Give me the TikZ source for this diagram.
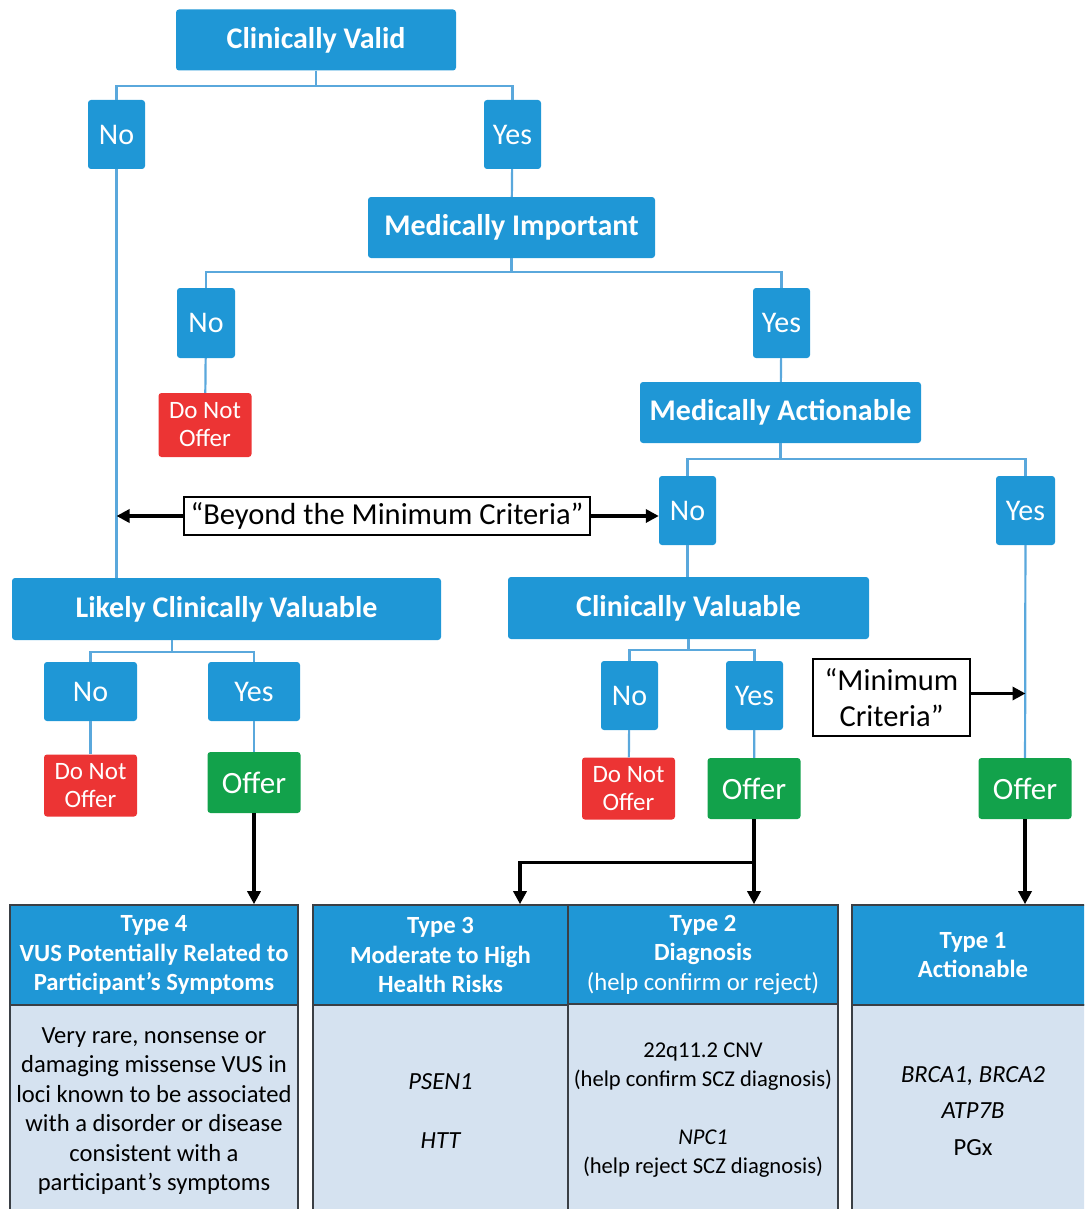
\documentclass[tikz,border=0pt]{standalone}
\usepackage{fontspec}
\setmainfont{Carlito}
\usepackage{tikz}
\usetikzlibrary{arrows.meta,positioning,calc}
\definecolor{boxblue}{HTML}{1F97D6}
\definecolor{linkblue}{HTML}{5AA8DC}
\definecolor{stopred}{HTML}{EC3434}
\definecolor{offergreen}{HTML}{12A24B}
\definecolor{bodyfill}{HTML}{D5E2F0}
\definecolor{rulegray}{HTML}{3A3F45}

\begin{document}
\begin{tikzpicture}[x=1pt,y=-1pt,
  decision/.style={fill=boxblue,rounded corners=3pt,text=white,inner sep=0pt,
              font=\fontsize{30}{32}\selectfont\bfseries},
  answer/.style={fill=boxblue,rounded corners=3pt,text=white,inner sep=0pt,
              font=\fontsize{30}{32}\selectfont},
  stopbox/.style={fill=stopred,rounded corners=3pt,text=white,inner sep=0pt,align=center,
              minimum width=93pt,minimum height=62pt,font=\fontsize{25}{28}\selectfont},
  offerbox/.style={fill=offergreen,rounded corners=3pt,text=white,inner sep=0pt,
              minimum width=93pt,minimum height=61pt,font=\fontsize{31}{32}\selectfont},
  critbox/.style={draw=black,line width=1.6pt,fill=white,inner sep=0pt,align=center,
              font=\fontsize{30.5}{36}\selectfont},
  thead/.style={draw=rulegray,line width=1.6pt,fill=boxblue,text=white,inner sep=0pt,align=center,
              minimum height=100pt,font=\fontsize{24.7}{29.5}\selectfont\bfseries},
  tbody/.style={draw=rulegray,line width=1.6pt,fill=bodyfill,inner sep=0pt,align=center,
              minimum height=212pt,font=\fontsize{24.6}{29.5}\selectfont},
  link/.style={linkblue,line width=2.2pt},
  flow/.style={-{Triangle[length=13pt,width=13pt]},black,line width=3.4pt}]
\useasboundingbox (0,0) rectangle (1084,1209);
\clip (0,0) rectangle (1084,1209);
% decision tree
\node[decision,minimum width=280pt,minimum height=61pt] (cv) at (316,40) {Clinically Valid};
\node[answer,minimum width=57pt,minimum height=69pt] (no1) at (116.5,134.5) {No};
\node[answer,minimum width=57pt,minimum height=69pt] (yes1) at (512.5,134.5) {Yes};
\node[decision,minimum width=287pt,minimum height=61pt] (mi) at (511.5,227.5) {Medically Important};
\node[answer,minimum width=58pt,minimum height=70pt] (no2) at (206,323) {No};
\node[stopbox,minimum height=64pt] (dno1) at (205,425) {Do Not\\Offer};
\node[answer,minimum width=57pt,minimum height=70pt] (yes2) at (781.5,323) {Yes};
\node[decision,minimum width=281pt,minimum height=61pt] (ma) at (780.5,412.5) {Medically Actionable};
\node[answer,minimum width=57pt,minimum height=69pt] (no3) at (687.5,510.5) {No};
\node[answer,minimum width=59pt,minimum height=69pt] (yes3) at (1025.5,510.5) {Yes};
\node[critbox,minimum width=406pt,minimum height=38pt] (beyond) at (387,516) {“Beyond the Minimum Criteria”};
\node[decision,minimum width=429pt,minimum height=62pt] (lcv) at (226.5,609) {Likely Clinically Valuable};
\node[decision,minimum width=361pt,minimum height=62pt] (clv) at (688.5,608) {Clinically Valuable};
\node[answer,minimum width=93pt,minimum height=59pt] (no4) at (90.5,691.5) {No};
\node[answer,minimum width=92pt,minimum height=59pt] (yes4) at (254,691.5) {Yes};
\node[stopbox] (dno2) at (90.5,785.5) {Do Not\\Offer};
\node[offerbox] (off1) at (254,782.5) {Offer};
\node[answer,minimum width=57pt,minimum height=69pt] (no5) at (629.5,695.5) {No};
\node[answer,minimum width=57pt,minimum height=69pt] (yes5) at (754.5,695.5) {Yes};
\node[stopbox] (dno3) at (628.5,788.5) {Do Not\\Offer};
\node[offerbox] (off2) at (754,788.5) {Offer};
\node[critbox,minimum width=157pt,minimum height=77pt] (mincrit) at (891.5,697.5) {“Minimum\\Criteria”};
\node[offerbox] (off3) at (1025,788.5) {Offer};
% result tables
\node[thead,minimum width=288pt] (t4h) at (154,955) {Type 4\\VUS Potentially Related to\\Participant’s Symptoms};
\node[tbody,minimum width=288pt] (t4b) at (154,1111) {Very rare, nonsense or\\damaging missense VUS in\\loci known to be associated\\with a disorder or disease\\consistent with a\\participant’s symptoms};
\node[thead,minimum width=255pt] (t3h) at (440.5,955) {Type 3\\Moderate to High\\Health Risks};
\node[tbody,minimum width=255pt] (t3b) at (440.5,1111) {\itshape PSEN1\\[29.5pt]\itshape HTT};
\node[thead,minimum width=270pt] (t2h) at (703,955) {Type 2\\Diagnosis\\\mdseries(help confirm or reject)};
\node[tbody,minimum width=270pt,font=\fontsize{22.6}{29}\selectfont] (t2b) at (703,1110) {22q11.2 CNV\\(help confirm SCZ diagnosis)\\[29pt]\itshape NPC1\\(help reject SCZ diagnosis)};
\node[thead,minimum width=242pt] (t1h) at (973,955) {Type 1\\Actionable};
\node[tbody,minimum width=242pt] (t1b) at (973,1111) {\itshape BRCA1, BRCA2\\[7pt]\itshape ATP7B\\[7pt]PGx};
% connectors
\coordinate (lcvmid) at ($(no4.north)!0.5!(yes4.north)$);
\draw[link] (cv.south) -- ++(0,15) -| (no1.north);
\draw[link] (cv.south) -- ++(0,15) -| (yes1.north);
\draw[link] (yes1) -- (mi);
\draw[link] (mi.south) -- ++(0,14) -| (no2.north);
\draw[link] (mi.south) -- ++(0,14) -| (yes2.north);
\draw[link] (no2) -- (dno1);
\draw[link] (yes2) -- (ma);
\draw[link] (ma.south) -- ++(0,16) -| (no3.north);
\draw[link] (ma.south) -- ++(0,16) -| (yes3.north);
\draw[link] (no1.south) -- (no1.south |- lcv.north);
\draw[link] (no3) -- (no3 |- clv.north);
\draw[link] (yes3) -- (off3);
\draw[link] (lcvmid |- lcv.south) -- ++(0,12) -| (no4.north);
\draw[link] (lcvmid |- lcv.south) -- ++(0,12) -| (yes4.north);
\draw[link] (no4) -- (dno2);
\draw[link] (yes4) -- (off1);
\draw[link] (clv.south) -- ++(0,11) -| (no5.north);
\draw[link] (clv.south) -- ++(0,11) -| (yes5.north);
\draw[link] (no5) -- (dno3);
\draw[link] (yes5) -- (off2);
\draw[flow] (beyond.west) -- (beyond.west -| no1);
\draw[flow] (beyond.east) -- (beyond.east -| no3.west);
\draw[flow] ([yshift=4pt]mincrit.east) -- ([yshift=4pt]mincrit.east -| yes3);
\draw[flow] (off1.south) -- (off1.south |- t4h.north);
\draw[flow] (off2.south) -- (off2.south |- t2h.north);
\draw[flow] (off2.south) -- ++(0,43) -| ([xshift=79.5pt]t3h.north);
\draw[flow] (off3.south) -- (off3.south |- t1h.north);
\end{tikzpicture}
\end{document}
